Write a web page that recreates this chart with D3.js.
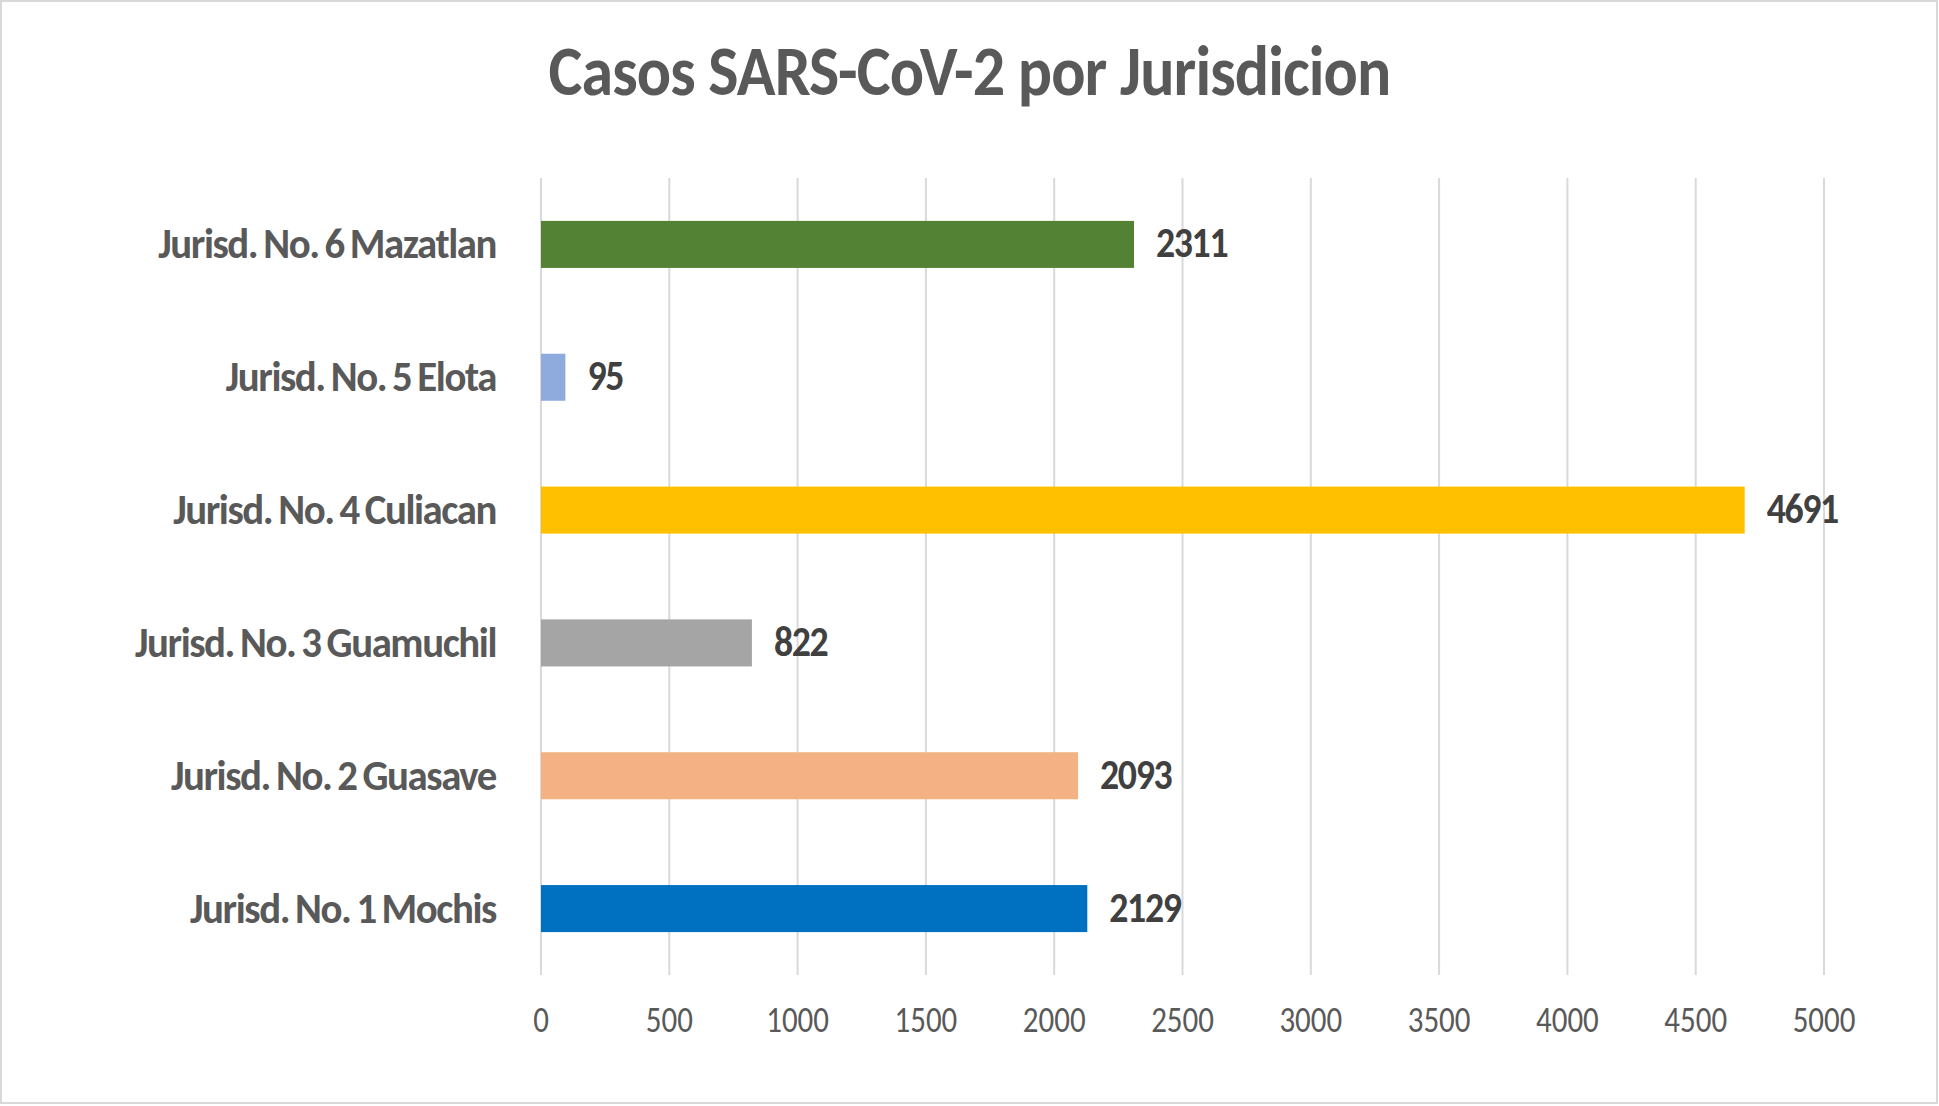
<!DOCTYPE html>
<html>
<head>
<meta charset="utf-8">
<script src="https://cdn.jsdelivr.net/npm/d3@7"></script>
<style>
  html, body { margin: 0; padding: 0; background: #fff; }
  svg { display: block; }
  text { font-family: Carlito, "Open Sans", sans-serif; }
</style>
</head>
<body>
<div id="chart"></div>
<script>
// Data
const categories = ['Jurisd. No. 1 Mochis', 'Jurisd. No. 2 Guasave', 'Jurisd. No. 3 Guamuchil',
                    'Jurisd. No. 4 Culiacan', 'Jurisd. No. 5 Elota', 'Jurisd. No. 6 Mazatlan'];
const cases = [2129, 2093, 822, 4691, 95, 2311];
const barColors = ['#0070C0', '#F4B183', '#A5A5A5', '#FFC000', '#8FAADC', '#548235'];
const xTicks = [0, 500, 1000, 1500, 2000, 2500, 3000, 3500, 4000, 4500, 5000];
const title = 'Casos SARS-CoV-2 por Jurisdicion';

const width = 1939;
const height = 1106;

const svg = d3.select('#chart')
  .append('svg')
    .attr('width', width)
    .attr('height', height);

// chart border
svg.append('rect')
  .attr('x', 1).attr('y', 1)
  .attr('width', width - 3).attr('height', height - 4)
  .attr('fill', '#fff')
  .attr('stroke', '#d9d9d9')
  .attr('stroke-width', 2);

const x = d3.scaleLinear().domain([0, 5000]).range([541, 1824]);
const y = d3.scaleBand()
  .domain(categories.slice().reverse())
  .range([178, 975])
  .paddingInner(0.646)
  .paddingOuter(0.323);

// text in the picture is horizontally condensed, so squeeze it a bit
function addText(parent, tx, ty, str, squeeze) {
  return parent.append('g')
      .attr('transform', `translate(${tx},${ty}) scale(${squeeze},1)`)
    .append('text')
      .text(str);
}

// title
addText(svg, width / 2, 95, title, 0.9)
  .attr('text-anchor', 'middle')
  .attr('font-size', 71)
  .attr('font-weight', 700)
  .attr('letter-spacing', -1)
  .attr('fill', '#595959');

// vertical gridlines
svg.append('g')
  .selectAll('line')
  .data(xTicks)
  .enter()
  .append('line')
    .attr('x1', d => x(d)).attr('x2', d => x(d))
    .attr('y1', 178).attr('y2', 975)
    .attr('stroke', '#d9d9d9')
    .attr('stroke-width', 2);

// tick labels
const tickG = svg.append('g');
xTicks.forEach(t => {
  addText(tickG, x(t), 1032, t, 0.86)
    .attr('text-anchor', 'middle')
    .attr('font-size', 36)
    .attr('fill', '#595959');
});

// bars
svg.append('g')
  .selectAll('rect')
  .data(cases)
  .enter()
  .append('rect')
    .attr('x', x(0))
    .attr('y', (d, i) => y(categories[i]))
    .attr('width', d => x(d) - x(0))
    .attr('height', y.bandwidth())
    .attr('fill', (d, i) => barColors[i]);

// category labels
const catG = svg.append('g');
categories.forEach(c => {
  addText(catG, 496, y(c) + y.bandwidth() / 2 + 14, c, 0.95)
    .attr('text-anchor', 'end')
    .attr('font-size', 43)
    .attr('font-weight', 700)
    .attr('letter-spacing', -1.5)
    .attr('word-spacing', -2)
    .attr('fill', '#595959');
});

// value labels
const valG = svg.append('g');
cases.forEach((v, i) => {
  addText(valG, x(v) + 22, y(categories[i]) + y.bandwidth() / 2 + 13, v, 0.9)
    .attr('font-size', 42)
    .attr('font-weight', 700)
    .attr('letter-spacing', -1.5)
    .attr('fill', '#404040');
});
</script>
</body>
</html>
